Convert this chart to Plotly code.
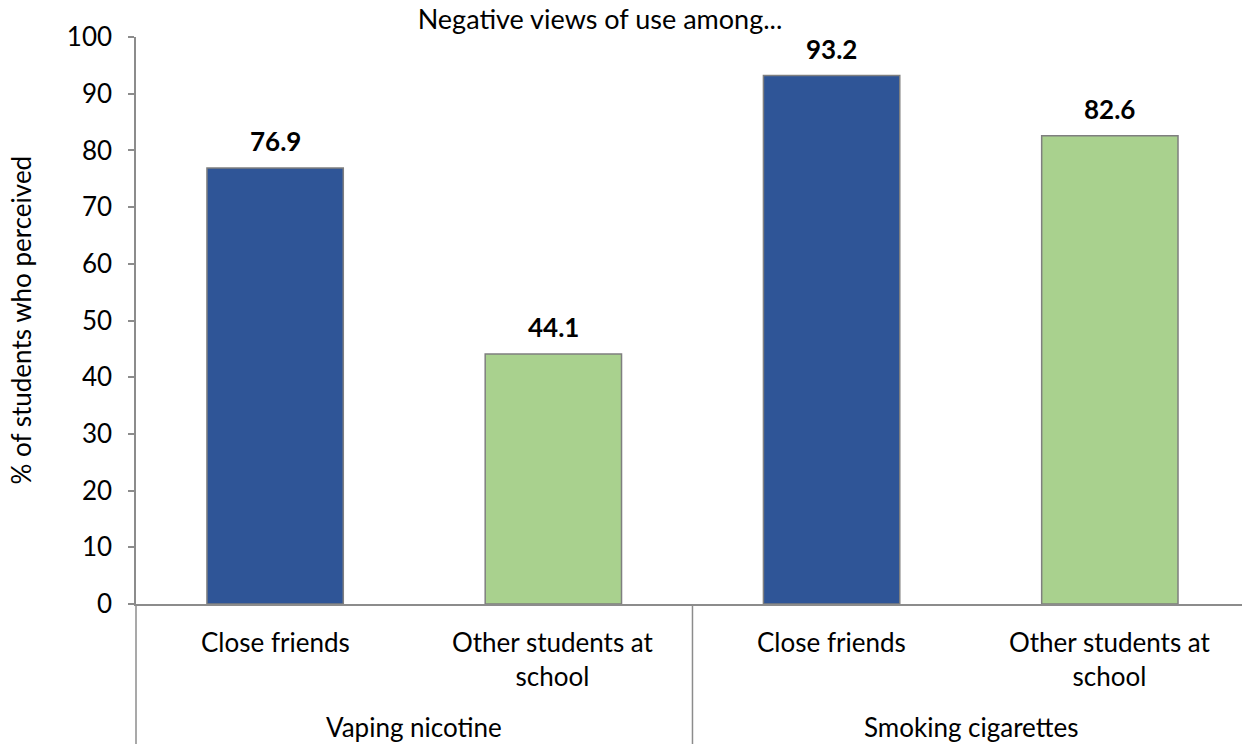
import plotly.graph_objects as go

# Data
groups = ["Vaping nicotine", "Smoking cigarettes"]
subcats = ["Close friends", "Other students at<br>school", "Close friends", "Other students at<br>school"]
values = [76.9, 44.1, 93.2, 82.6]
colors = ["#2F5597", "#A9D18E", "#2F5597", "#A9D18E"]
yticks = [0, 10, 20, 30, 40, 50, 60, 70, 80, 90, 100]

FONT = "Lato, Calibri, Carlito, sans-serif"
FS = 26
W, H = 1242, 744
ML, MT, MB = 136, 37, 140
plot_h = H - MT - MB

xs = list(range(len(values)))

fig = go.Figure()
fig.add_trace(go.Bar(
    x=xs, y=values, width=0.49,
    marker=dict(color=colors, line=dict(color="#7F7F7F", width=1.5)),
    hoverinfo="skip", showlegend=False,
))

# Data labels
for x, v in zip(xs, values):
    fig.add_annotation(x=x, y=v, text=f"<b>{v:.1f}</b>", showarrow=False,
                       yanchor="bottom", yshift=9,
                       font=dict(family=FONT, size=FS, color="#000000"))

# Category labels
for x, s in zip(xs, subcats):
    fig.add_annotation(x=x, y=-20 / plot_h, yref="paper", text=s, showarrow=False,
                       yanchor="top", align="center",
                       font=dict(family=FONT, size=FS, color="#000000"))

# Group labels
for gi, g in enumerate(groups):
    fig.add_annotation(x=gi * 2 + 0.5, y=-123 / plot_h, yref="paper", text=g, showarrow=False,
                       yanchor="middle",
                       font=dict(family=FONT, size=FS, color="#000000"))

# Divider lines under axis
line_style = dict(color="#8C8C8C", width=1.5)
fig.add_shape(type="line", xref="paper", yref="paper", x0=0, x1=0, y0=0, y1=-MB / plot_h, line=line_style)
fig.add_shape(type="line", xref="x", yref="paper", x0=1.5, x1=1.5, y0=0, y1=-MB / plot_h, line=line_style)

# Y axis title
fig.add_annotation(xref="paper", yref="paper", x=0, y=0.5, xshift=-116, text="% of students who perceived",
                   textangle=-90, showarrow=False, xanchor="center", yanchor="middle",
                   font=dict(family=FONT, size=FS, color="#000000"))

fig.update_layout(
    width=W, height=H,
    margin=dict(l=ML, r=0, t=MT, b=MB, pad=0),
    paper_bgcolor="white", plot_bgcolor="white",
    title=dict(text="Negative views of use among...", x=600 / W, xanchor="center",
               xref="container", y=1 - 20 / H, yanchor="middle", yref="container",
               font=dict(family=FONT, size=FS + 1, color="#000000")),
    xaxis=dict(range=[-0.5, 3.475], showticklabels=False, showgrid=False, zeroline=False,
               showline=True, linecolor="#8C8C8C", linewidth=1.5, ticks=""),
    yaxis=dict(range=[0, 100], tickvals=yticks, showgrid=False, zeroline=False,
               showline=True, linecolor="#8C8C8C", linewidth=1.5,
               ticks="outside", ticklen=6, tickcolor="#8C8C8C", tickwidth=1.5,
               ticklabelstandoff=11,
               tickfont=dict(family=FONT, size=FS, color="#000000")),
)

fig.write_html("out.html")
